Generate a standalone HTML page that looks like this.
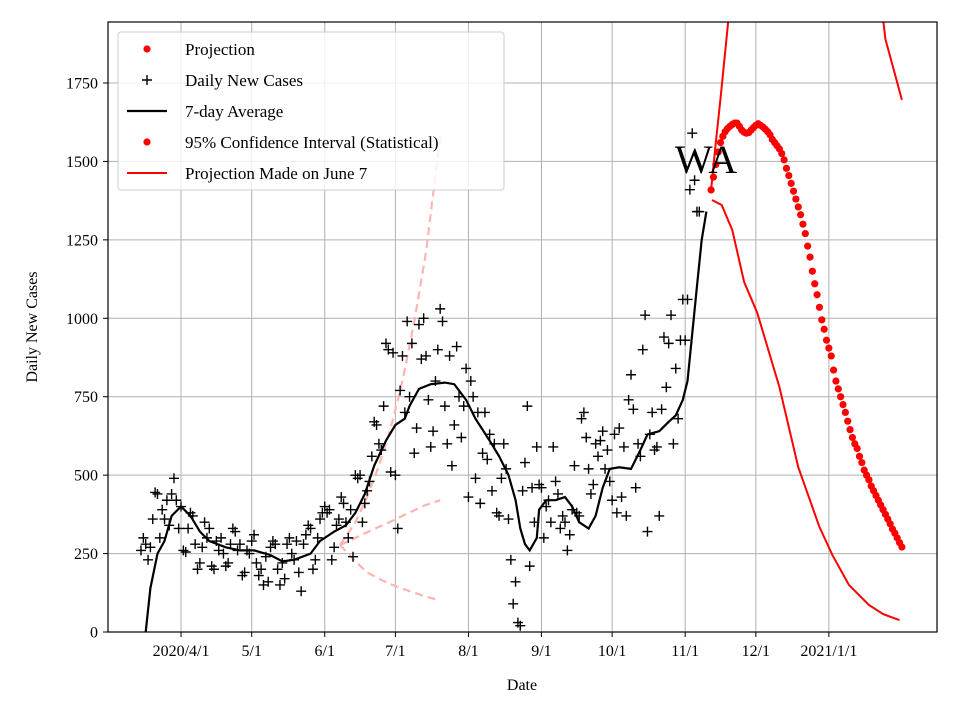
<!DOCTYPE html>
<html><head><meta charset="utf-8"><style>
body{margin:0;background:#fff}
svg{display:block;font-family:"Liberation Serif",serif}
</style></head><body>
<svg id="c" width="960" height="720" xmlns="http://www.w3.org/2000/svg"></svg>
<script>
const tickDays=[31,61,92,122,153,184,214,245,275,306];
const tickLabels=["2020/4/1","5/1","6/1","7/1","8/1","9/1","10/1","11/1","12/1","2021/1/1"];
const yTicks=[0,250,500,750,1000,1250,1500,1750];
const dailyStart=14;
const dailyVals=[260,300,280,230,270,360,445,440,300,390,360,420,340,440,490,420,330,
400,260,255,330,380,370,280,200,220,270,350,300,330,210,200,290,260,300,250,210,220,280,330,320,260,280,180,190,260,250,
290,310,220,180,200,150,240,160,270,290,280,200,150,220,170,280,300,250,230,290,190,130,280,310,340,330,200,230,300,360,380,
400,380,390,230,270,340,360,430,410,350,300,390,240,500,490,500,350,410,450,480,560,670,660,600,580,720,920,900,510,890,
500,330,770,880,700,990,750,920,570,650,980,870,1000,880,740,590,640,800,900,1030,990,720,600,880,530,660,910,750,620,720,840,
430,800,750,490,700,410,570,700,550,630,450,600,380,370,490,600,520,360,230,90,160,30,20,450,540,720,210,460,350,590,470,
460,300,400,420,350,590,480,440,330,370,350,260,310,390,530,380,370,680,700,620,520,440,470,600,560,610,640,520,580,480,
420,630,380,650,430,590,370,740,820,710,460,600,560,900,1010,320,630,700,580,590,370,710,940,780,920,1010,600,840,680,930,1060,
930,1060,1410,1590,1440,1340,1340];
const avgDays=[16,18,21,24,27,31,35,39,43,50,56,62,69,74,79,86,90,96,101,105,109,113,118,122,126,128,132,137,143,147,152,156,162,166,170,173,175,177,179,182,183,186,190,194,197,200,204,207,210,213,217,222,226,229,234,238,241,244,246,248,250,252,254];
const avgVals=[0,140,250,290,370,400,370,320,290,270,260,260,245,225,230,250,290,320,340,380,440,530,610,660,680,720,775,790,795,790,740,680,610,560,500,420,330,280,260,300,390,420,420,430,400,350,330,370,460,520,525,520,580,630,640,670,690,740,800,950,1100,1250,1340];
const projStart=256;
const projVals=[1409,1450,1490,1530,1560,1580,1595,1605,1612,1618,1622,1622,1612,1600,1593,1590,1592,1600,1608,1615,1620,1615,1610,1603,1595,1585,1570,1560,1550,1540,1525,1505,1478,1455,1430,1405,1380,1355,1330,1300,1270,1230,1195,1150,1110,1075,1035,995,965,930,905,880,835,800,775,750,725,700,672,645,620,600,585,560,540,516,500,485,465,450,435,420,405,390,375,360,345,328,315,300,285,271];
const ciUpDays=[256,258,260,262,264,270,280,290,300,310,320,326,330,334,337];
const ciUpVals=[1410,1560,1700,1850,2000,2400,2900,3200,3300,3100,2600,2150,1890,1780,1696];
const ciLowDays=[256.4,260.5,265,270,275.6,285,293,302,307.5,314.5,323,329,336];
const ciLowVals=[1377,1361,1281,1116,1017,781,526,335,245,150,86,57,38];
const junDays=[98.5,105,110,115,120,125,130,135,141];
const junUp=[277,350,430,530,650,800,990,1210,1580];
const junMid=[277,300,318,335,352,370,388,405,420];
const junLow=[277,225,190,170,152,138,125,113,100];

const NS="http://www.w3.org/2000/svg",svg=document.getElementById('c');
const L=108,R=937,T=22,B=632;
const xs=d=>L+d*(R-L)/351.9, ys=v=>B-v*(B-83)/1750;
function mk(t,a,p){const e=document.createElementNS(NS,t);for(const k in a)e.setAttribute(k,a[k]);(p||svg).appendChild(e);return e;}
const defs=mk('defs',{});const cp=mk('clipPath',{id:'clip'},defs);mk('rect',{x:L,y:T,width:R-L,height:B-T},cp);
// grid
const grid=mk('g',{});


tickDays.forEach(d=>mk('line',{x1:xs(d),x2:xs(d),y1:T,y2:B,stroke:'#b0b0b0','stroke-width':1},grid));
yTicks.forEach(v=>mk('line',{x1:L,x2:R,y1:ys(v),y2:ys(v),stroke:'#b0b0b0','stroke-width':1},grid));
const plot=mk('g',{'clip-path':'url(#clip)'});


function line(days,vals,attrs,name){const p=mk('path',Object.assign({fill:'none',d:days.map((d,i)=>(i?'L':'M')+xs(d).toFixed(1)+','+ys(vals[i]).toFixed(1)).join('')},attrs),plot);

}
line(junDays,junUp,{stroke:'#ffb3b3','stroke-width':2.2,'stroke-dasharray':'8,5'},'june-ci-upper');
line(junDays,junMid,{stroke:'#ffb3b3','stroke-width':2.2,'stroke-dasharray':'8,5'},'june-projection');
line(junDays,junLow,{stroke:'#ffb3b3','stroke-width':2.2,'stroke-dasharray':'8,5'},'june-ci-lower');
const dg=mk('g',{stroke:'#000','stroke-width':1.4},plot);


dailyVals.forEach((v,i)=>{const x=xs(dailyStart+i),y=ys(v);mk('path',{d:`M${x-5},${y}h10M${x},${y-5}v10`},dg);});
line(avgDays,avgVals,{stroke:'#000','stroke-width':2.2},'seven-day-average');
line(ciUpDays,ciUpVals,{stroke:'#f00','stroke-width':2},'ci-upper');
line(ciLowDays,ciLowVals,{stroke:'#f00','stroke-width':2},'ci-lower');
const pg=mk('g',{fill:'#f00'},plot);


projVals.forEach((v,i)=>mk('circle',{cx:xs(projStart+i),cy:ys(v),r:3.6},pg));
// frame
mk('rect',{x:L,y:T,width:R-L,height:B-T,fill:'none',stroke:'#000','stroke-width':1.2});
// ticks
const xt=mk('g',{'font-size':16,'text-anchor':'middle'});


tickDays.forEach((d,i)=>{mk('line',{x1:xs(d),x2:xs(d),y1:B,y2:B+5,stroke:'#000'},xt);const t=mk('text',{x:xs(d),y:B+24},xt);t.textContent=tickLabels[i];});
const yt=mk('g',{'font-size':16,'text-anchor':'end'});


yTicks.forEach(v=>{mk('line',{x1:L-5,x2:L,y1:ys(v),y2:ys(v),stroke:'#000'},yt);const t=mk('text',{x:L-10,y:ys(v)+5.5},yt);t.textContent=v;});
let t=mk('text',{x:522,y:690,'font-size':16,'text-anchor':'middle'});t.textContent='Date';

t=mk('text',{x:37,y:327,'font-size':16,'text-anchor':'middle',transform:'rotate(-90 37 327)'});t.textContent='Daily New Cases';

t=mk('text',{x:706,y:173,'font-size':40,'text-anchor':'middle'});t.textContent='WA';

// legend
const lg=mk('g',{});


mk('rect',{x:118,y:32,width:386,height:158,rx:3,fill:'#fff','fill-opacity':0.8,stroke:'#ccc'},lg);
const labels=['Projection','Daily New Cases','7-day Average','95% Confidence Interval (Statistical)','Projection Made on June 7'];
labels.forEach((s,i)=>{const y=49+i*31;
if(i==0||i==3)mk('circle',{cx:147,cy:y,r:3.6,fill:'#f00'},lg);
if(i==1)mk('path',{d:`M142,${y}h10M147,${y-5}v10`,stroke:'#000','stroke-width':1.4},lg);
if(i==2)mk('line',{x1:127,x2:167,y1:y,y2:y,stroke:'#000','stroke-width':2.2},lg);
if(i==4)mk('line',{x1:127,x2:167,y1:y,y2:y,stroke:'#f00','stroke-width':2},lg);
const tx=mk('text',{x:185,y:y+6,'font-size':17},lg);tx.textContent=s;
});
</script>
</body></html>
